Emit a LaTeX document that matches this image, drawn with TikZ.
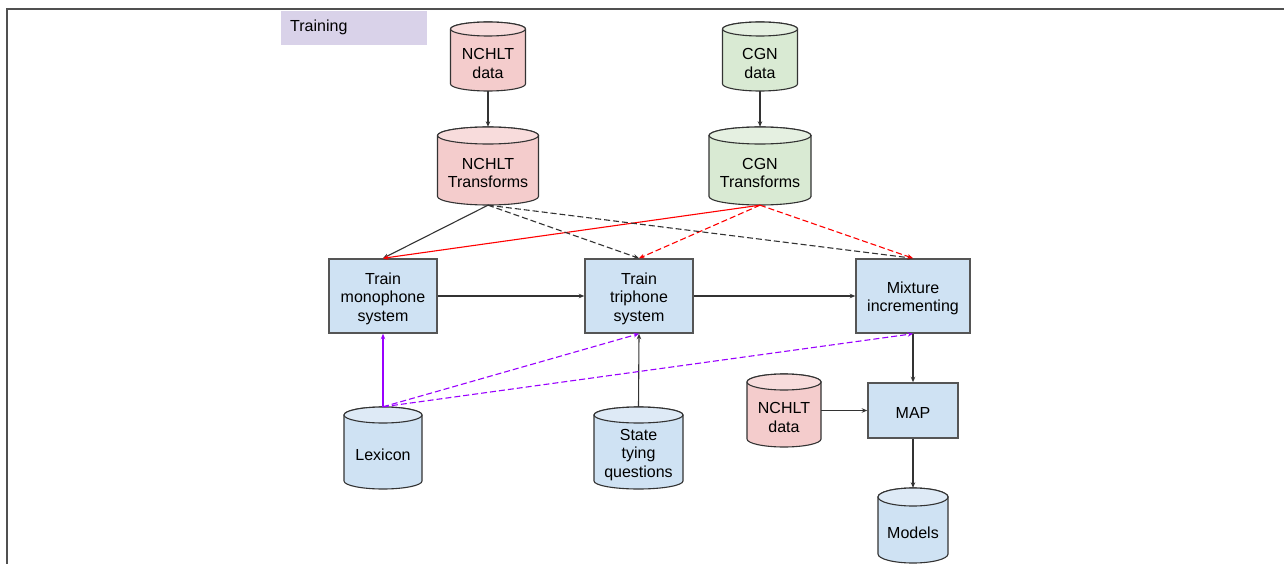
\documentclass[tikz,border=0pt]{standalone}
\usepackage{fontspec}
\setmainfont{Liberation Sans}
\usetikzlibrary{arrows.meta}
\definecolor{pinkbody}{HTML}{F4CCCC}
\definecolor{pinktop}{HTML}{F8DCDC}
\definecolor{greenbody}{HTML}{D9EAD3}
\definecolor{greentop}{HTML}{E5F0E1}
\definecolor{bluebody}{HTML}{CFE2F3}
\definecolor{bluetop}{HTML}{DEEAF6}
\definecolor{trainfill}{HTML}{D9D2E9}
\definecolor{myred}{HTML}{FF0000}
\definecolor{mypurple}{HTML}{9900FF}
\definecolor{lineg}{HTML}{333333}
\definecolor{boxline}{HTML}{555555}
\definecolor{framecol}{HTML}{505050}
\newcommand\cyl[9]{%
 \begin{scope}[shift={(#2,-#3)}]
 \draw[cylline,fill=#7] ({-(#4)/2},-#6) -- ({-(#4)/2},{-(#5)+(#6)})
   arc[start angle=180,end angle=360,x radius={(#4)*0.5pt},y radius={(#6)*1pt}]
   -- ({(#4)/2},-#6)
   arc[start angle=0,end angle=180,x radius={(#4)*0.5pt},y radius={(#6)*1pt}] -- cycle;
 \draw[cylline,fill=#8] (0,-#6) ellipse[x radius={(#4)*0.5pt},y radius={(#6)*1pt}];
 \node[minimum width=#4, minimum height=#5, inner sep=0] (#1) at (0,{-(#5)/2}) {};
 \node[txt] (#1-t) at (0,{-(#5)/2-7}) {#9};
 \end{scope}}
\newcommand\bx[6]{%
 \node[box, minimum width=#4, minimum height=#5] (#1) at (#2,-#3) {};
 \node[txt] (#1-t) at (#2,{-(#3)-2.5}) {#6};}
\begin{document}
\begin{tikzpicture}[x=1pt,y=1pt,
  txt/.style={font=\fontsize{16}{18.5}\selectfont, align=center, inner sep=0},
  cylline/.style={draw=lineg, line width=1.1pt},
  box/.style={draw=boxline, line width=1.5pt, fill=bluebody, inner sep=0},
  conn/.style={draw=lineg, line width=1.1pt, -{Stealth[length=5.5pt,width=4.5pt]}},
  dsh/.style={dash pattern=on 6pt off 3pt}]
\useasboundingbox (0,0) rectangle (1284,-564);
\draw[framecol, line width=2pt] (6.5,-564) -- (6.5,-9.5) -- (1284,-9.5);
\node[fill=trainfill, anchor=north west, inner xsep=9pt, inner ysep=0, text width=128pt,
  minimum height=34pt, align=left, font=\fontsize{16}{18.5}\selectfont] (train) at (281,-10.5) {Training};

\cyl{ndata}{488}{22}{75}{69}{7}{pinkbody}{pinktop}{NCHLT\\data}
\cyl{cdata}{760}{22}{75}{69}{7}{greenbody}{greentop}{CGN\\data}
\cyl{ntrans}{488}{127}{101}{78}{8.5}{pinkbody}{pinktop}{NCHLT\\Transforms}
\cyl{ctrans}{760}{127}{102}{78}{8.5}{greenbody}{greentop}{CGN\\Transforms}
\cyl{ndata2}{784}{374}{74}{73}{8}{pinkbody}{pinktop}{NCHLT\\data}
\cyl{lex}{383}{407}{78}{82}{8}{bluebody}{bluetop}{Lexicon}
\cyl{state}{638.5}{407}{89}{82}{8}{bluebody}{bluetop}{State\\tying\\questions}
\cyl{models}{913}{488}{70}{75}{9}{bluebody}{bluetop}{Models}

\bx{mono}{383}{296}{108pt}{74pt}{Train\\monophone\\system}
\bx{tri}{639}{296}{108pt}{74pt}{Train\\triphone\\system}
\bx{mix}{913}{296}{114pt}{74pt}{Mixture\\incrementing}
\bx{map}{913}{410.5}{90pt}{55pt}{MAP}

\draw[conn] (ndata.south) -- (ntrans.north);
\draw[conn] (cdata.south) -- (ctrans.north);
\draw[conn] (ntrans.south) -- (mono.north);
\draw[conn, draw=myred] (ctrans.south) -- (mono.north);
\draw[conn, dsh] (ntrans.south) -- (tri.north);
\draw[conn, dsh, draw=myred] (ctrans.south) -- (tri.north);
\draw[conn, dsh] (ntrans.south) -- (mix.north);
\draw[conn, dsh, draw=myred] (ctrans.south) -- (mix.north);
\draw[conn] (mono.east) -- (tri.west);
\draw[conn] (tri.east) -- (mix.west);
\draw[conn] (mix.south) -- (map.north);
\draw[conn] (ndata2.east) -- (map.west);
\draw[conn] (map.south) -- (models.north);
\draw[conn] (state.north) -- (tri.south);
\draw[conn, draw=mypurple] (lex.north) -- (mono.south);
\draw[conn, dsh, draw=mypurple] (lex.north) -- (tri.south);
\draw[conn, dsh, draw=mypurple] (lex.north) -- (mix.south);
\end{tikzpicture}
\end{document}
